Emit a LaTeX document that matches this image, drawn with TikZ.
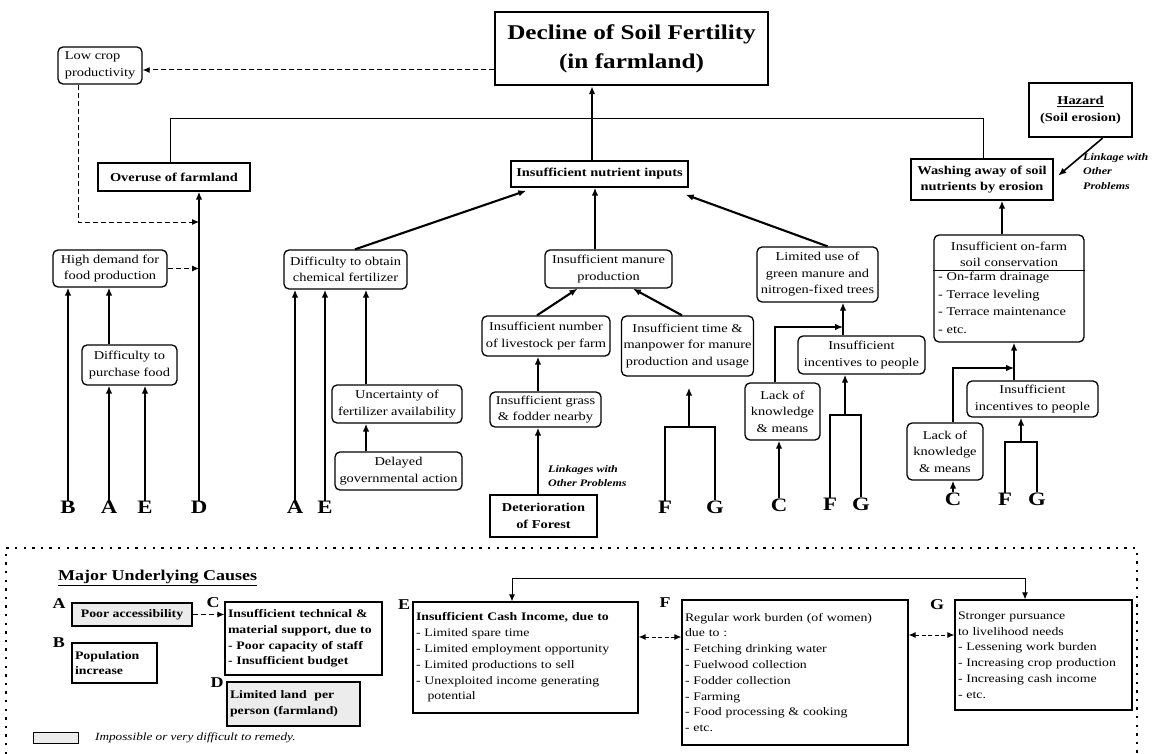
\documentclass[tikz,border=0pt]{standalone}
\usepackage{fontspec}
\setmainfont{Liberation Serif}[FakeStretch=1.2]
\usetikzlibrary{arrows.meta,calc}
\newcommand\bodyf{\fontsize{12}{16.5}\selectfont}
\newcommand\panelf{\fontsize{11.5}{15.8}\selectfont}
\begin{document}
\begin{tikzpicture}[x=1pt,y=-1pt,
  every node/.style={inner sep=2pt},
  box/.style={draw, line width=1.3pt, align=center, font=\bodyf},
  rbox/.style={box, rounded corners=5pt},
  sbox/.style={box, font=\bodyf\bfseries},
  heavy/.style={draw, line width=2.4pt, align=center, font=\bodyf\bfseries},
  arr/.style={line width=2.1pt, -{Latex[length=8pt,width=6.5pt]}},
  tarr/.style={line width=1.1pt, -{Latex[length=8pt,width=6.5pt]}},
  wire/.style={line width=2.1pt},
  link/.style={line width=1pt},
  darr/.style={line width=1pt, dash pattern=on 5pt off 3pt, -{Latex[length=7pt,width=6pt]}},
  ddarr/.style={line width=1pt, dash pattern=on 4pt off 2.5pt, {Latex[length=7pt,width=6pt]}-{Latex[length=7pt,width=6pt]}},
  letter/.style={font=\fontsize{19}{19}\selectfont\bfseries, inner sep=0pt},
  tag/.style={font=\fontsize{15}{15}\selectfont\bfseries, inner sep=0pt},
  pbox/.style={draw, line width=1.2pt, align=left, font=\panelf, inner sep=3pt},
  shade/.style={fill=gray!15},
  linkage/.style={font=\fontsize{10}{14.5}\selectfont\bfseries\itshape, align=left, inner sep=0pt, anchor=north west},
]
\useasboundingbox (0,0) rectangle (1158,754);

% ---------- problem tree ----------
\node[heavy, minimum width=273pt, minimum height=73pt, font=\fontsize{21}{29}\selectfont\bfseries] (decline) at (631.5,48.5) {Decline of Soil Fertility\\(in farmland)};
\node[rbox, align=left, minimum width=84pt, minimum height=37pt] (lowcrop) at (100,65.5) {Low crop\\productivity};
\node[sbox, minimum width=152pt, minimum height=28pt] (overuse) at (174,177) {Overuse of farmland};
\node[sbox, minimum width=177pt, minimum height=26pt] (nutrient) at (599.5,174) {Insufficient nutrient inputs};
\node[sbox, minimum width=142pt, minimum height=41pt] (washing) at (982,179.5) {Washing away of soil\\nutrients by erosion};
\node[heavy, minimum width=103pt, minimum height=54pt] (hazard) at (1080.5,110) {\underline{Hazard}\\(Soil erosion)};
\node[linkage] (lkH) at (1083,153) {Linkage with\\Other\\Problems};

% left branch
\node[rbox, minimum width=114pt, minimum height=37pt] (high) at (110,268.5) {High demand for\\food production};
\node[rbox, minimum width=95pt, minimum height=40pt] (purchase) at (129.5,365) {Difficulty to\\purchase food};

% fertilizer branch
\node[rbox, minimum width=123pt, minimum height=39pt] (chem) at (345.5,269.5) {Difficulty to obtain\\chemical fertilizer};
\node[rbox, minimum width=130pt, minimum height=38pt] (uncertain) at (397,404) {Uncertainty of\\fertilizer availability};
\node[rbox, minimum width=127pt, minimum height=38pt] (delayed) at (398.5,471) {Delayed\\governmental action};

% manure branch
\node[rbox, minimum width=127pt, minimum height=38pt] (manure) at (608.5,269) {Insufficient manure\\production};
\node[rbox, minimum width=128pt, minimum height=40pt] (livestock) at (546,336) {Insufficient number\\of livestock per farm};
\node[rbox, minimum width=131pt, minimum height=60pt] (time) at (687.5,346) {Insufficient time \&\\manpower for manure\\production and usage};
\node[rbox, minimum width=111pt, minimum height=35pt] (grass) at (545.5,409.5) {Insufficient grass\\\& fodder nearby};
\node[heavy, minimum width=107pt, minimum height=42pt] (forest) at (543.5,516) {Deterioration\\of Forest};
\node[linkage] (lkF) at (548,465) {Linkages with\\Other Problems};

% green manure branch
\node[rbox, minimum width=121pt, minimum height=55pt] (limited) at (817.5,274.5) {Limited use of\\green manure and\\nitrogen-fixed trees};
\node[rbox, minimum width=127pt, minimum height=38pt] (incL) at (861.5,355) {Insufficient\\incentives to people};
\node[rbox, minimum width=75pt, minimum height=57pt] (lackL) at (782.5,411.5) {Lack of\\knowledge\\\& means};

% soil conservation branch
\node[rbox, minimum width=150pt, minimum height=107pt] (onfarm) at (1009,288.5) {};
\node[font=\bodyf, align=center, inner sep=0pt] (ofT) at (1009,254.5) {Insufficient on-farm\\soil conservation};
\coordinate (sep) at (0,270);
\draw[line width=0.8pt] (onfarm.west |- sep) -- (onfarm.east |- sep);
\node[font=\fontsize{12}{17.5}\selectfont, align=left, anchor=north west, inner sep=0pt] (ofL) at (938,272) {- On-farm drainage\\- Terrace leveling\\- Terrace maintenance\\- etc.};
\node[rbox, minimum width=131pt, minimum height=36pt] (incR) at (1032.5,399) {Insufficient\\incentives to people};
\node[rbox, minimum width=76pt, minimum height=57pt] (lackR) at (945,451.5) {Lack of\\knowledge\\\& means};

% cause letters
\node[letter] (lB) at (68,507) {B};
\node[letter] (lA1) at (109,507) {A};
\node[letter] (lE1) at (145,507) {E};
\node[letter] (lD) at (199,507) {D};
\node[letter] (lA2) at (295,507) {A};
\node[letter] (lE2) at (325,507) {E};
\node[letter] (lF1) at (665,507) {F};
\node[letter] (lG1) at (715,507) {G};
\node[letter] (lC1) at (779,505) {C};
\node[letter] (lF2) at (830,504) {F};
\node[letter] (lG2) at (861,504) {G};
\node[letter] (lC2) at (953,499) {C};
\node[letter] (lF3) at (1005,499) {F};
\node[letter] (lG3) at (1037,499) {G};

% ---------- connectors ----------
\coordinate (nin) at ([xshift=-7.5pt]nutrient.north);
\draw[arr] (nin) -- (nin |- decline.south);
\draw[link] ([xshift=-4pt]overuse.north) -- ++(0,-44) -| ([xshift=1pt]washing.north);
\coordinate (dl) at ([yshift=-21.5pt]decline.west);
\draw[darr] (dl) -- (dl -| lowcrop.east);
\coordinate (yLow) at (0,222);
\coordinate (jLow) at (lD.north |- yLow);
\draw[darr] ([xshift=-22pt]lowcrop.south) |- (jLow);

\draw[arr] (lB.north) -- (lB.north |- high.south);
\draw[arr] (lA1.north) -- (lA1.north |- purchase.south);
\draw[arr] (lE1.north) -- (lE1.north |- purchase.south);
\draw[arr] (purchase.north -| lA1) -- (lA1 |- high.south);
\draw[arr] (lD.north) -- (lD.north |- overuse.south);
\draw[darr] (high.east) -- (high.east -| lD.north);

\draw[arr] ([xshift=9.5pt]chem.north) -- ([xshift=16pt,yshift=-3pt]nutrient.south west);
\draw[arr] (lA2.north) -- (lA2.north |- chem.south);
\draw[arr] (lE2.north) -- (lE2.north |- chem.south);
\coordinate (ux) at ([xshift=-31pt]uncertain.north);
\draw[arr] (ux) -- (ux |- chem.south);
\draw[arr] (delayed.north -| ux) -- (ux |- uncertain.south);

\coordinate (mtop) at ([xshift=-13.5pt]manure.north);
\draw[arr] (mtop) -- (mtop |- nutrient.south);
\draw[arr] ([xshift=-9pt]livestock.north) -- ([xshift=-31pt]manure.south);
\draw[arr] ([xshift=-5.5pt]time.north) -- ([xshift=24.5pt]manure.south);
\coordinate (gx) at ([xshift=-7.5pt]grass.north);
\draw[arr] (gx) -- (gx |- livestock.south);
\draw[arr] (forest.north -| gx) -- (gx |- grass.south);
\coordinate (jM) at (689,427);
\draw[wire] (lF1.north) |- (jM) -| (lG1.north);
\draw[arr, shorten >=11pt] (jM) -- (jM |- time.south);

\draw[arr] ([xshift=10pt]limited.north) -- ([xshift=-3pt,yshift=-7pt]nutrient.south east);
\coordinate (jL) at (843,327);
\draw[arr] (incL.north -| jL) -- (jL |- limited.south);
\draw[tarr] ([xshift=-7.5pt]lackL.north) |- (jL);
\draw[arr] (lC1.north) -- (lC1.north |- lackL.south);
\coordinate (jFG2) at (845,415);
\draw[wire] (lF2.north) |- (jFG2) -| (lG2.north);
\draw[arr] (jFG2) -- (jFG2 |- incL.south);

\coordinate (ow) at ([xshift=20pt]washing.south);
\draw[arr] (onfarm.north -| ow) -- (ow);
\draw[arr, line width=1.6pt, shorten >=6pt] ([xshift=22pt]hazard.south) -- (washing.east);
\coordinate (jR) at (1014,368);
\draw[arr] (incR.north -| jR) -- (jR |- onfarm.south);
\draw[tarr] ([xshift=8pt]lackR.north) |- (jR);
\draw[arr] (lC2.north) -- (lC2.north |- lackR.south);
\coordinate (jFG3) at (1021,442);
\draw[wire] (lF3.north) |- (jFG3) -| (lG3.north);
\draw[arr] (jFG3) -- (jFG3 |- incR.south);

% ---------- underlying causes panel ----------
\draw[line width=2.2pt, dash pattern=on 2.4pt off 6.2pt] (6,754) -- (6,548) -- (1137,548) -- (1137,754);
\node[font=\fontsize{15}{15}\selectfont\bfseries, anchor=west, inner sep=0pt] (muc) at (58,578) {\underline{Major Underlying Causes}};

\node[tag] (tA) at (59,604) {A};
\node[tag] (tB) at (59,643) {B};
\node[tag] (tC) at (213,603) {C};
\node[tag] (tD) at (217,683) {D};
\node[tag] (tE) at (404,605) {E};
\node[tag] (tF) at (665,603) {F};
\node[tag] (tG) at (937,605) {G};

\node[pbox, shade, align=center, font=\panelf\bfseries, minimum width=120pt, minimum height=23pt] (poor) at (132,614.5) {Poor accessibility};
\node[pbox, font=\panelf\bfseries, text width=79pt, minimum height=40pt] (pop) at (114.5,663) {Population\\increase};
\node[pbox, font=\panelf\bfseries, text width=151pt, minimum height=73pt] (cbox) at (303.5,638.5) {Insufficient technical \&\\material support, due to\\- Poor capacity of staff\\- Insufficient budget};
\node[pbox, shade, font=\panelf\bfseries, text width=127pt, minimum height=44pt] (dbox) at (293.5,704) {Limited land\ \ per\\person (farmland)};
\node[pbox, text width=219pt, minimum height=111pt] (ebox) at (525.5,657.5) {\textbf{Insufficient Cash Income, due to}\\- Limited spare time\\- Limited employment opportunity\\- Limited productions to sell\\- Unexploited income generating\\\ \ \ potential};
\node[pbox, text width=220pt, minimum height=145pt] (fbox) at (795,672.5) {Regular work burden (of women)\\due to :\\- Fetching drinking water\\- Fuelwood collection\\- Fodder collection\\- Farming\\- Food processing \& cooking\\- etc.};
\node[pbox, text width=171pt, minimum height=110pt] (gbox) at (1043.5,655) {Stronger pursuance\\to livelihood needs\\- Lessening work burden\\- Increasing crop production\\- Increasing cash income\\- etc.};

\draw[darr] (poor.east) -- (poor.east -| cbox.west);
\coordinate (ef) at ([yshift=20.5pt]ebox.east);
\draw[ddarr] (ef) -- (ef -| fbox.west);
\coordinate (fg) at ([yshift=37.5pt]fbox.east);
\draw[ddarr] (fg) -- (fg -| gbox.west);
\draw[line width=1pt, {Latex[length=7pt,width=6pt]}-{Latex[length=7pt,width=6pt]}] ([xshift=-13.5pt]ebox.north) -- ++(0,-23) -| ([xshift=-18.5pt]gbox.north);

% legend
\node[draw, line width=1pt, shade, minimum width=45pt, minimum height=11pt, inner sep=0pt] (lgd) at (55.5,737.5) {};
\node[anchor=west, font=\fontsize{11}{11}\selectfont\itshape, inner sep=0pt] (lgdT) at (95,738) {Impossible or very difficult to remedy.};
\end{tikzpicture}
\end{document}
